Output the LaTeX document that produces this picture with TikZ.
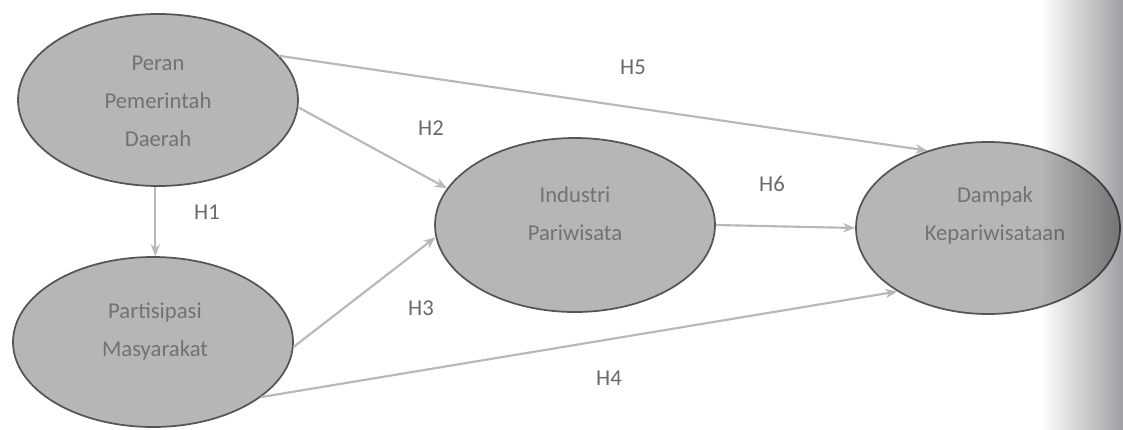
\documentclass[tikz,border=0pt]{standalone}
\usepackage{fontspec}
\setmainfont{Carlito}
\usetikzlibrary{arrows.meta,shapes.geometric}
\definecolor{ellfill}{HTML}{B6B6B6}
\definecolor{elldraw}{HTML}{555555}
\definecolor{txt}{HTML}{727272}
\definecolor{conn}{HTML}{B8B8B8}
\definecolor{lbl}{HTML}{6A6A6A}
\definecolor{shadow}{HTML}{A0A0A4}
\definecolor{shadowmid}{HTML}{E2E2E4}
\tikzset{
  construct/.style={ellipse, fill=ellfill, draw=elldraw, line width=1.3pt, inner sep=0pt},
  ctext/.style={text=txt, font=\fontsize{17}{28.5}\selectfont, align=center, inner sep=0pt},
  hyp/.style={draw=conn, line width=1.6pt, -{Stealth[length=9pt,width=7pt]}},
  hlabel/.style={text=lbl, font=\fontsize{17}{20}\selectfont}
}
\begin{document}
\begin{tikzpicture}[x=0.75pt,y=-0.75pt]
\useasboundingbox (0,0) rectangle (1123,429);
\fill[white] (0,0) rectangle (1123,429);
\node[construct, minimum width=210pt, minimum height=129pt] (prd) at (158,100) {};
\node[construct, minimum width=210pt, minimum height=127.5pt] (pm) at (153,342) {};
\node[construct, minimum width=210pt, minimum height=130.5pt] (ip) at (575,225) {};
\node[construct, minimum width=198pt, minimum height=129pt] (dk) at (988,228) {};

\node[ctext] (tprd) at (158,101) {Peran\\Pemerintah\\Daerah};
\node[ctext] (tpm) at (155,331) {Partisipasi\\Masyarakat};
\node[ctext] (tip) at (575,214) {Industri\\Pariwisata};
\node[ctext] (tdk) at (995,215) {Dampak\\Kepariwisataan};

\draw[hyp] ([xshift=-2pt]prd.south) -- ([xshift=-2pt]prd.south |- pm.north);
\draw[hyp] (prd.-3) -- (ip.164);
\draw[hyp] (pm.-2) -- (ip.185.5);
\draw[hyp] (pm.-27) -- (dk.215.6);
\draw[hyp] (prd.20.7) -- (dk.128);
\draw[hyp] (ip.east) -- (dk.west);

\node[hlabel] (h1) at (207,212) {H1};
\node[hlabel] (h2) at (431,128) {H2};
\node[hlabel] (h3) at (421,308) {H3};
\node[hlabel] (h4) at (609,378) {H4};
\node[hlabel] (h5) at (633,67) {H5};
\node[hlabel] (h6) at (772,184) {H6};

\begin{scope}[blend mode=multiply]
\shade[left color=white, middle color=shadowmid, right color=shadow] (1040,0) rectangle (1123,429);
\end{scope}
\end{tikzpicture}
\end{document}
